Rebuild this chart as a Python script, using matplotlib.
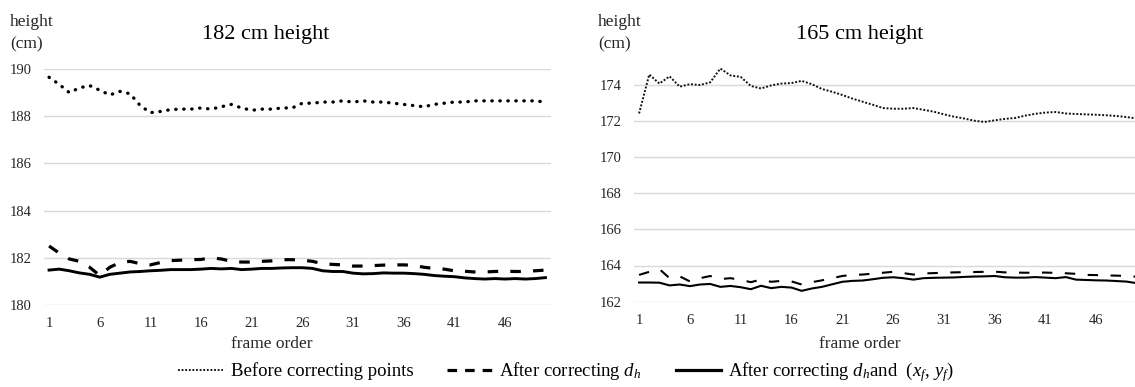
import matplotlib
matplotlib.use("Agg")
import matplotlib.pyplot as plt
from matplotlib.lines import Line2D
import numpy as np

plt.rcParams['font.family'] = ['Liberation Serif', 'DejaVu Serif']
plt.rcParams['mathtext.fontset'] = 'custom'
plt.rcParams['mathtext.rm'] = 'Liberation Serif'
plt.rcParams['mathtext.it'] = 'Liberation Serif:italic'

frames = list(range(1, 51))
xtick_labels = [1, 6, 11, 16, 21, 26, 31, 36, 41, 46]

# 182 cm subject
left_before = [189.65, 189.35, 189.0, 189.2, 189.3, 189.1, 188.9, 189.05, 188.95, 188.45,
               188.15, 188.2, 188.28, 188.3, 188.3, 188.35, 188.3, 188.4, 188.5, 188.35,
               188.25, 188.3, 188.3, 188.35, 188.35, 188.55, 188.55, 188.6, 188.6, 188.65,
               188.6, 188.65, 188.6, 188.6, 188.55, 188.5, 188.45, 188.4, 188.5, 188.55,
               188.6, 188.6, 188.65, 188.65, 188.65, 188.65, 188.65, 188.65, 188.65, 188.6]
left_dh = [182.5, 182.2, 181.95, 181.85, 181.6, 181.25, 181.6, 181.8, 181.85, 181.75,
           181.7, 181.8, 181.88, 181.9, 181.92, 181.93, 182.0, 181.95, 181.85, 181.82,
           181.82, 181.85, 181.87, 181.92, 181.92, 181.9, 181.85, 181.75, 181.72, 181.7,
           181.65, 181.65, 181.67, 181.69, 181.7, 181.7, 181.68, 181.6, 181.55, 181.52,
           181.45, 181.43, 181.4, 181.4, 181.42, 181.43, 181.42, 181.42, 181.45, 181.48]
left_dh_xy = [181.48, 181.52, 181.45, 181.36, 181.3, 181.18, 181.3, 181.35, 181.4, 181.42,
              181.45, 181.47, 181.5, 181.5, 181.5, 181.52, 181.55, 181.53, 181.55, 181.5,
              181.52, 181.55, 181.55, 181.57, 181.58, 181.58, 181.55, 181.45, 181.42, 181.42,
              181.35, 181.32, 181.33, 181.36, 181.35, 181.35, 181.33, 181.3, 181.25, 181.22,
              181.2, 181.15, 181.12, 181.1, 181.12, 181.1, 181.12, 181.1, 181.12, 181.16]

# 165 cm subject
right_before = [172.4, 174.55, 174.05, 174.45, 173.88, 174.02, 173.97, 174.12, 174.88, 174.5,
                174.42, 173.92, 173.78, 173.95, 174.05, 174.08, 174.2, 174.02, 173.75, 173.6,
                173.42, 173.22, 173.05, 172.88, 172.7, 172.66, 172.66, 172.7, 172.6, 172.5,
                172.35, 172.22, 172.12, 172.0, 171.93, 172.02, 172.1, 172.15, 172.28, 172.38,
                172.45, 172.48, 172.4, 172.37, 172.35, 172.33, 172.3, 172.26, 172.2, 172.12]
right_dh = [163.48, 163.65, 163.8, 163.3, 163.4, 163.12, 163.3, 163.42, 163.25, 163.3,
            163.2, 163.08, 163.22, 163.1, 163.15, 163.12, 162.95, 163.08, 163.18, 163.3,
            163.42, 163.48, 163.5, 163.55, 163.6, 163.65, 163.58, 163.5, 163.56, 163.58,
            163.6, 163.62, 163.63, 163.64, 163.65, 163.66, 163.62, 163.61, 163.6, 163.6,
            163.61, 163.59, 163.57, 163.54, 163.48, 163.47, 163.45, 163.44, 163.42, 163.38]
right_dh_xy = [163.06, 163.06, 163.05, 162.9, 162.95, 162.86, 162.95, 162.98, 162.82, 162.87,
               162.8, 162.69, 162.88, 162.75, 162.82, 162.78, 162.6, 162.73, 162.82, 162.96,
               163.1, 163.15, 163.17, 163.24, 163.32, 163.35, 163.3, 163.22, 163.3, 163.32,
               163.33, 163.34, 163.37, 163.39, 163.4, 163.42, 163.35, 163.33, 163.33, 163.36,
               163.33, 163.3, 163.36, 163.22, 163.2, 163.18, 163.17, 163.14, 163.11, 163.02]

left_yticks = [180, 182, 184, 186, 188, 190]
right_yticks = [162, 164, 166, 168, 170, 172, 174]

legend_labels = ["Before correcting points",
                 "After correcting $d_h$",
                 "After correcting $d_h$and  $(x_f,\\, y_f)$"]

W, H = 1135, 387
fig = plt.figure(figsize=(W / 100, H / 100), dpi=100)
fig.patch.set_facecolor('white')


def px(x0, y0, x1, y1):
    return [x0 / W, 1 - y1 / H, (x1 - x0) / W, (y1 - y0) / H]


axL = fig.add_axes(px(44, 69, 550.5, 305))
axR = fig.add_axes(px(634, 48.3, 1142, 301.7))

grid_c = '#d9d9d9'
tick_c = '#262626'

for ax, yt in ((axL, left_yticks), (axR, right_yticks)):
    for s in ax.spines.values():
        s.set_visible(False)
    ax.set_xlim(0.5, 50.5)
    ax.set_xticks(xtick_labels)
    ax.set_xticklabels([str(v) for v in xtick_labels])
    ax.set_yticks(yt)
    ax.set_yticklabels([str(v) for v in yt])
    ax.tick_params(length=0, labelsize=10.5, colors=tick_c)
    ax.tick_params(axis='x', pad=8.5)
    ax.tick_params(axis='y', pad=9)
    ax.yaxis.grid(True, color=grid_c, lw=1.0)
    ax.set_axisbelow(True)

axL.set_ylim(180, 190)
axR.set_ylim(162, 176)

# Left chart: thick lines
axL.plot(frames, left_before, color='black', lw=2.4, linestyle=(0, (0.1, 2.3)),
         dash_capstyle='round', solid_capstyle='round')
axL.plot(frames, left_dh, color='black', lw=2.3, linestyle=(0, (3.3, 3.8)),
         dash_capstyle='butt')
axL.plot(frames, left_dh_xy, color='black', lw=2.1)

# Right chart: thinner lines
axR.plot(frames, right_before, color='#111111', lw=1.4, linestyle=(0, (1, 0.9)))
axR.plot(frames, right_dh, color='black', lw=1.5, linestyle=(0, (5, 6)))
axR.plot(frames, right_dh_xy, color='black', lw=1.5)


def ftext(x, y, s, **kw):
    fig.text(x / W, 1 - y / H, s, **kw)


ftext(266, 35, "182 cm height", fontsize=16, ha='center', va='center', color='black')
ftext(860, 35, "165 cm height", fontsize=16, ha='center', va='center', color='black')
for x0 in (10, 598):
    ftext(x0, 22, "height", fontsize=12.5, ha='left', va='center', color=tick_c)
    ftext(x0, 44, "(cm)", fontsize=12.5, ha='left', va='center', color=tick_c)
ftext(272, 344, "frame order", fontsize=12.5, ha='center', va='center', color=tick_c)
ftext(860, 344, "frame order", fontsize=12.5, ha='center', va='center', color=tick_c)

handles = [Line2D([], [], color='black', lw=1.3, linestyle=(0, (1, 1))),
           Line2D([], [], color='black', lw=2.3, linestyle=(0, (3.0, 2.5))),
           Line2D([], [], color='black', lw=2.3)]
fig.legend(handles, legend_labels, loc='center', bbox_to_anchor=(566 / W, 1 - 372 / H),
           ncol=3, frameon=False, fontsize=13.5, handlelength=2.4, handletextpad=0.4,
           columnspacing=1.8, borderaxespad=0, borderpad=0)

fig.savefig('out.png', dpi=100, facecolor='white')
